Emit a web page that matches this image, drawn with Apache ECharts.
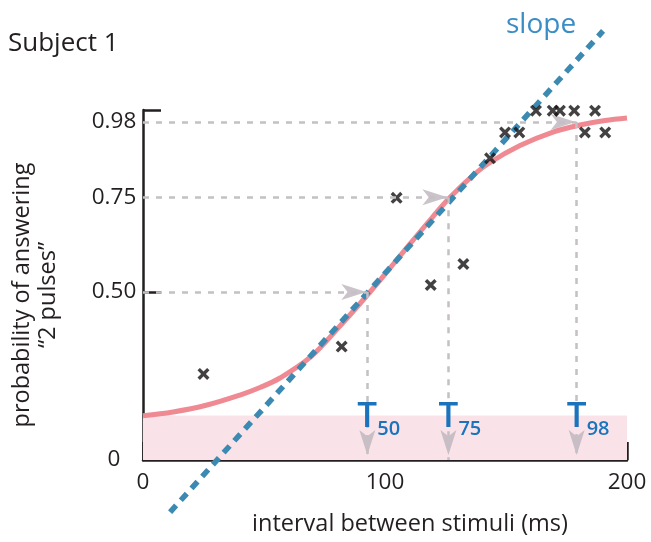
<!DOCTYPE html>
<html><head><meta charset="utf-8">
<script src="https://cdn.jsdelivr.net/npm/echarts@6/dist/echarts.min.js"></script>
<style>html,body{margin:0;padding:0;background:#fff}#c{width:651px;height:542px}</style>
</head><body><div id="c"></div>
<script>
// y axis is drawn linearly in plotted height; tick labels sit where the reference puts them
const yTickPos = [0, 0.48, 0.751, 0.966];
const yTickLabels = ['0', '0.50', '0.75', '0.98'];
const yTickMarks = [0.48, 1];

// individual trials (ms, response level)
const trialX = [25.0, 82.1, 104.8, 118.9, 132.4, 143.4, 149.6, 155.5, 162.4, 169.3, 172.3, 178.2, 182.6, 186.8, 191.0];
const trialY = [0.246, 0.324, 0.749, 0.500, 0.560, 0.862, 0.936, 0.936, 0.998, 0.998, 0.998, 0.998, 0.936, 0.998, 0.936];

// fitted psychometric curve
const curveX = [0, 12.4, 26.45, 40.08, 48.35, 56.61, 69.01, 81.40, 93.80, 106.20, 118.60, 126.03, 135.12, 143.39, 155.79, 169.42, 180.58, 190.91, 200];
const curveY = [0.1266, 0.1371, 0.1571, 0.1857, 0.2071, 0.2343, 0.2929, 0.3829, 0.4800, 0.5829, 0.6857, 0.7443, 0.8057, 0.8500, 0.8986, 0.9371, 0.9571, 0.9700, 0.9771];

// tangent ("slope") line end points
const slopeX = [11.2, 190.1];
const slopeY = [-0.149, 1.226];

// thresholds
const threshX = [92.7, 126.2, 179.2];
const threshY = [0.48, 0.751, 0.966];
const threshNames = ['50', '75', '98'];

// guessing floor (shaded band)
const floorY = 0.127;

const FONT = "'Open Sans', sans-serif";
const INK = '#231f20';
const GUIDE = '#c4c0c3';
const ARROW = '#bdb4bb';
const TBLUE = '#1b74bb';

const guideLines = [];
threshX.forEach((tx, i) => {
  guideLines.push([{coord: [0, threshY[i]]}, {coord: [tx, threshY[i]]}]);
  guideLines.push([{coord: [tx, threshY[i]]}, {coord: [tx, 0]}]);
});
const arrowHeads = [];
threshX.forEach((tx, i) => {
  arrowHeads.push({value: [tx, threshY[i]], symbolRotate: -90, symbolOffset: [-1, 0]});
  arrowHeads.push({value: [tx, 0], symbolRotate: 180, symbolOffset: [0, -5]});
});
const tLabels = [];
threshX.forEach((tx, i) => {
  tLabels.push({coord: [tx, 0], label: {formatter: 'T', fontSize: 35, lineHeight: 35, fontWeight: 600, offset: [-10, -60]}});
  tLabels.push({coord: [tx, 0], label: {formatter: threshNames[i], fontSize: 20, lineHeight: 20, fontWeight: 600, offset: [10, -41]}});
});

const chart = echarts.init(document.getElementById('c'), null, {renderer: 'canvas'});
chart.setOption({
  animation: false,
  backgroundColor: '#fff',
  grid: {left: 143, right: 24, top: 110, bottom: 82, containLabel: false},
  xAxis: {
    type: 'value', min: 0, max: 200, interval: 100,
    axisLine: {lineStyle: {color: INK, width: 2.5}},
    axisTick: {inside: true, length: 18, lineStyle: {color: INK, width: 2.5}},
    axisLabel: {color: INK, fontSize: 22.5, fontFamily: FONT, margin: 11},
    splitLine: {show: false},
    name: 'interval between stimuli (ms)', nameLocation: 'middle', nameGap: 52,
    nameTextStyle: {color: INK, fontSize: 23.5, fontFamily: FONT, padding: [0, 0, 0, 50]}
  },
  yAxis: {
    type: 'value', min: 0, max: 1,
    axisLine: {show: true, lineStyle: {color: INK, width: 2.5}},
    axisTick: {show: true, inside: true, length: 18, customValues: yTickMarks, lineStyle: {color: INK, width: 2.5}},
    axisLabel: {
      customValues: yTickPos,
      formatter: v => { const i = yTickPos.findIndex(p => Math.abs(p - v) < 1e-6); return i >= 0 ? yTickLabels[i] : ''; },
      color: INK, fontSize: 22.5, fontFamily: FONT, align: 'center', margin: 29
    },
    splitLine: {show: false},
    name: 'probability of answering\n\u201c2 pulses\u201d', nameLocation: 'middle', nameRotate: 90, nameGap: 82,
    nameTextStyle: {color: INK, fontSize: 23.5, fontFamily: FONT, lineHeight: 26, padding: [0, 20, 0, 0]}
  },
  graphic: [
    {type: 'text', left: 8, top: 31, style: {text: 'Subject 1', font: "26px 'Open Sans', sans-serif", fill: INK}},
    {type: 'text', left: 506, top: 11, style: {text: 'slope', font: "28px 'Open Sans', sans-serif", fill: '#3a8dc5'}}
  ],
  series: [
    {
      type: 'line', data: [], z: 0, silent: true,
      markArea: {silent: true, itemStyle: {color: '#f9e3e9'}, data: [[{coord: [0, 0]}, {coord: [200, floorY]}]]}
    },
    {
      type: 'line', data: [], z: 1, silent: true,
      markLine: {
        silent: true, animation: false, symbol: 'none',
        lineStyle: {type: [6, 7], color: GUIDE, width: 2.5},
        label: {show: false}, emphasis: {disabled: true},
        data: guideLines
      }
    },
    {
      type: 'scatter', z: 1, silent: true,
      data: arrowHeads, symbol: 'arrow', symbolSize: [12, 25],
      itemStyle: {color: ARROW}
    },
    {
      type: 'line', z: 2, silent: true, smooth: 0.35, symbol: 'none',
      data: curveX.map((x, i) => [x, curveY[i]]),
      lineStyle: {color: '#f08a92', width: 5}
    },
    {
      type: 'line', z: 3, silent: true, clip: false, symbol: 'none',
      data: slopeX.map((x, i) => [x, slopeY[i]]),
      lineStyle: {color: '#3c89b2', width: 5.5, type: [9, 7]}
    },
    {
      type: 'scatter', z: 4, silent: true,
      data: trialX.map((x, i) => [x, trialY[i]]),
      symbol: 'path://M0,2L2,0L5,3L8,0L10,2L7,5L10,8L8,10L5,7L2,10L0,8L3,5Z',
      symbolSize: 12, itemStyle: {color: '#141112'}
    },
    {
      type: 'line', data: [], z: 5, silent: true,
      markPoint: {
        silent: true, symbol: 'rect', symbolSize: 1, itemStyle: {color: 'rgba(0,0,0,0)'},
        label: {show: true, position: 'inside', align: 'left', verticalAlign: 'top', fontFamily: FONT, color: TBLUE},
        data: tLabels
      }
    }
  ]
});
</script>
</body></html>
